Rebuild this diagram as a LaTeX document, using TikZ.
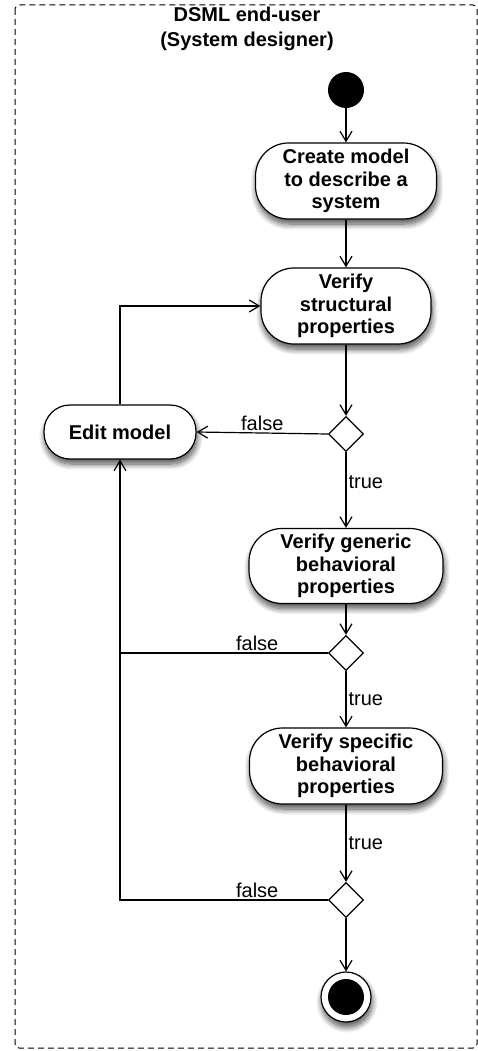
\documentclass[tikz,border=0pt]{standalone}
\usepackage{fontspec}
\setmainfont{Liberation Sans}
\usetikzlibrary{arrows.meta,shapes.geometric,shadows.blur}
\begin{document}
\begin{tikzpicture}[x=1pt,y=-1pt]
\tikzset{
  shade/.style={blur shadow={shadow xshift=1pt, shadow yshift=-5pt, shadow blur radius=6pt, shadow opacity=70, shadow blur steps=10}},
  act/.style={draw, line width=1.2pt, rounded corners=33pt, fill=white, align=center,
    font=\bfseries\fontsize{20}{22.3}\selectfont, inner sep=0pt, shade},
  dec/.style={diamond, draw, line width=1.2pt, fill=white, minimum width=35pt, minimum height=35pt, inner sep=0pt},
  flow/.style={line width=1.2pt, -{Straight Barb[length=10pt,width=12pt]}},
  plain/.style={line width=1.2pt},
  lbl/.style={font=\fontsize{20}{22}\selectfont, inner sep=2pt},
}
\useasboundingbox (0,0) rectangle (478,1051);
\draw[line width=1pt, dash pattern=on 6pt off 4pt, rounded corners=4pt] (15,5) rectangle (477,1048);
\node[align=center, font=\bfseries\fontsize{20}{25}\selectfont] (title) at (247,29) {DSML end-user\\(System designer)};

\node[circle, fill=black, minimum size=36pt, inner sep=0pt] (start) at (346,90) {};
\node[act, minimum width=181pt, minimum height=76pt] (create) at (346,181) {Create model\\to describe a\\system};
\node[act, minimum width=170pt, minimum height=76pt] (struct) at (346,306) {Verify\\structural\\properties};
\node[dec] (d1) at (346,434) {};
\node[act, rounded corners=26pt, minimum width=152pt, minimum height=54pt] (edit) at (120,432) {Edit model};
\node[act, minimum width=194pt, minimum height=75pt] (generic) at (346,566) {Verify generic\\behavioral\\properties};
\node[dec] (d2) at (346,653) {};
\node[act, minimum width=193pt, minimum height=76pt] (specific) at (346,766) {Verify specific\\behavioral\\properties};
\node[dec] (d3) at (346,900) {};
\node[circle, draw, line width=1.2pt, fill=white, minimum size=50pt, inner sep=0pt, shade,
  path picture={\fill[black] (path picture bounding box.center) circle (18pt);}] (end) at (346,997) {};

\draw[flow] (start) -- (create);
\draw[flow] (create) -- (struct);
\draw[flow] (struct) -- (d1);
\draw[flow] (d1.west) -- node[lbl, above] {false} (edit.east);
\draw[flow] (d1.south) -- node[lbl, right, pos=0.4] {true} (generic.north);
\draw[flow] (generic) -- (d2);
\draw[plain] (d2.west) -- node[lbl, above, pos=0.34] {false} (d2.west -| edit.south);
\draw[flow] (d2.south) -- node[lbl, right] {true} (specific.north);
\draw[flow] (specific) -- node[lbl, right] {true} (d3.north);
\draw[flow] (d3.west) -- node[lbl, above, pos=0.34] {false} (d3.west -| edit.south) -- (edit.south);
\draw[flow] (d3.south) -- (end);
\draw[flow] (edit.north) |- (struct.west);
\end{tikzpicture}
\end{document}
